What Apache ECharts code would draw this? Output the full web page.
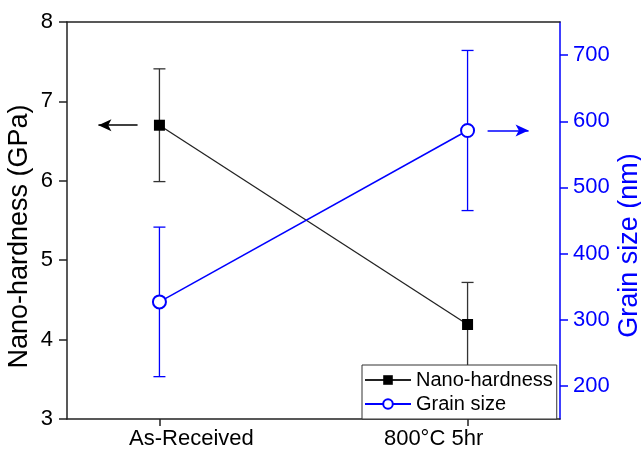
<!DOCTYPE html>
<html>
<head>
<meta charset="utf-8">
<script src="https://cdn.jsdelivr.net/npm/echarts@6/dist/echarts.min.js"></script>
<style>html,body{margin:0;padding:0;background:#fff}#c{width:641px;height:450px}</style>
</head>
<body>
<div id="c"></div>
<script>
const categories = ['As-Received', '800°C 5hr'];
const categoryPos = [0, 1];
const hardness = [6.70, 4.19];
const hardnessErr = [0.71, 0.53];
const grainSize = [327, 586];
const grainErr = [113, 121];
const leftTicks = [3, 4, 5, 6, 7, 8];
const rightTicks = [200, 300, 400, 500, 600, 700];

const FONT = 'Liberation Sans, Arial, sans-serif';
const BLUE = '#0000ff';
const DARK = '#222222';

const hardPts = categoryPos.map((x, i) => [x, hardness[i]]);
const grainPts = categoryPos.map((x, i) => [x, grainSize[i]]);
const hardErrData = categoryPos.map((x, i) => [x, hardness[i] - hardnessErr[i], hardness[i] + hardnessErr[i]]);
const grainErrData = categoryPos.map((x, i) => [x, grainSize[i] - grainErr[i], grainSize[i] + grainErr[i]]);

function errRender(color) {
  return function (params, api) {
    const x = api.value(0);
    const lo = api.coord([x, api.value(1)]);
    const hi = api.coord([x, api.value(2)]);
    const hw = 6;
    const st = { stroke: color, lineWidth: 1.3 };
    return {
      type: 'group',
      children: [
        { type: 'line', shape: { x1: lo[0], y1: lo[1], x2: hi[0], y2: hi[1] }, style: st },
        { type: 'line', shape: { x1: lo[0] - hw, y1: lo[1], x2: lo[0] + hw, y2: lo[1] }, style: st },
        { type: 'line', shape: { x1: hi[0] - hw, y1: hi[1], x2: hi[0] + hw, y2: hi[1] }, style: st }
      ]
    };
  };
}

const chart = echarts.init(document.getElementById('c'));
chart.setOption({
  animation: false,
  textStyle: { fontFamily: FONT },
  grid: { left: 67, right: 81, top: 22, bottom: 31, containLabel: false, outerBoundsMode: 'none' },
  legend: {
    orient: 'vertical',
    left: 362, top: 365,
    padding: [4, 4, 4, 2],
    itemGap: 2,
    itemWidth: 46, itemHeight: 12,
    backgroundColor: '#fff',
    borderColor: '#333', borderWidth: 1, borderRadius: 0,
    textStyle: { fontSize: 20, color: '#000', lineHeight: 22, fontFamily: FONT },
    data: ['Nano-hardness', 'Grain size']
  },
  xAxis: [{
    type: 'value', min: -0.3, max: 1.3,
    splitLine: { show: false },
    axisLine: { onZero: false, lineStyle: { color: DARK, width: 1.5 } },
    axisTick: { customValues: categoryPos, length: 7, inside: false, lineStyle: { color: DARK, width: 1.5 } },
    axisLabel: {
      customValues: categoryPos,
      fontSize: 22, color: '#000', margin: 9,
      formatter: function (v) {
        return v < 0.5 ? '{a|' + categories[0] + '}' : '{b|' + categories[1] + '}';
      },
      rich: {
        a: { fontSize: 22, color: '#000', padding: [0, 0, 0, 64], fontFamily: FONT },
        b: { fontSize: 22, color: '#000', padding: [0, 68, 0, 0], fontFamily: FONT }
      }
    }
  }, {
    type: 'value', position: 'top', min: -0.3, max: 1.3,
    splitLine: { show: false },
    axisLine: { show: true, onZero: false, lineStyle: { color: DARK, width: 1.5 } },
    axisTick: { show: false }, axisLabel: { show: false }
  }],
  yAxis: [{
    type: 'value', min: 3, max: 8, interval: 1,
    position: 'left',
    name: 'Nano-hardness (GPa)', nameLocation: 'middle', nameRotate: 90, nameGap: 34,
    nameMoveOverlap: false,
    nameTextStyle: { fontSize: 27, color: '#000', fontFamily: FONT, padding: [0, 32, 0, 0] },
    splitLine: { show: false },
    axisLine: { show: true, onZero: false, lineStyle: { color: DARK, width: 1.5 } },
    axisTick: { show: true, length: 8, lineStyle: { color: DARK, width: 1.5 } },
    axisLabel: { fontSize: 22, color: '#000', margin: 14 }
  }, {
    type: 'value', min: 150, max: 750,
    position: 'right',
    name: 'Grain size (nm)', nameLocation: 'middle', nameRotate: 90, nameGap: 56,
    nameMoveOverlap: false,
    nameTextStyle: { fontSize: 27, color: BLUE, fontFamily: FONT, padding: [0, 50, 0, 0] },
    splitLine: { show: false },
    axisLine: { show: true, onZero: false, lineStyle: { color: BLUE, width: 1.5 } },
    axisTick: { show: true, customValues: rightTicks, length: 8, lineStyle: { color: BLUE, width: 1.5 } },
    axisLabel: { customValues: rightTicks, fontSize: 22, color: BLUE, margin: 13 }
  }],
  series: [
    {
      type: 'custom', name: 'hardErr', xAxisIndex: 0, yAxisIndex: 0,
      renderItem: errRender('#333'), data: hardErrData, encode: { x: 0, y: [1, 2] }, silent: true, z: 1
    },
    {
      type: 'custom', name: 'grainErr', xAxisIndex: 0, yAxisIndex: 1,
      renderItem: errRender(BLUE), data: grainErrData, encode: { x: 0, y: [1, 2] }, silent: true, z: 1
    },
    {
      name: 'Nano-hardness', type: 'line', xAxisIndex: 0, yAxisIndex: 0,
      data: hardPts, symbol: 'rect', symbolSize: 11,
      itemStyle: { color: '#000' },
      lineStyle: { color: '#222', width: 1.3 },
      z: 3,
      markLine: {
        silent: true, symbol: ['none', 'arrow'], symbolSize: [9, 13],
        label: { show: false },
        lineStyle: { color: '#000', width: 1.5, type: 'solid' },
        data: [[{ coord: [-0.071, hardness[0]] }, { coord: [-0.198, hardness[0]] }]]
      }
    },
    {
      name: 'Grain size', type: 'line', xAxisIndex: 0, yAxisIndex: 1,
      data: grainPts, symbol: 'emptyCircle', symbolSize: 13,
      itemStyle: { color: BLUE, borderColor: BLUE, borderWidth: 1.3 },
      lineStyle: { color: BLUE, width: 1.5 },
      z: 3,
      markLine: {
        silent: true, symbol: ['none', 'arrow'], symbolSize: [9, 13],
        label: { show: false },
        lineStyle: { color: BLUE, width: 1.5, type: 'solid' },
        data: [[{ coord: [1.065, grainSize[1]] }, { coord: [1.198, grainSize[1]] }]]
      }
    }
  ]
});
</script>
</body>
</html>
